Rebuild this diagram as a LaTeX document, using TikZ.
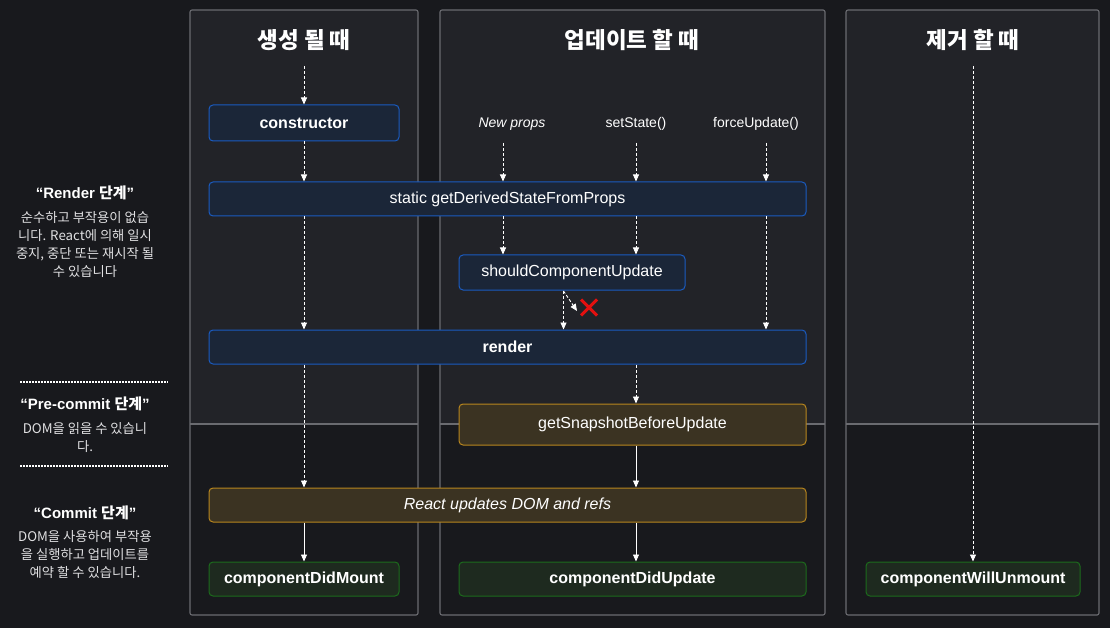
\documentclass[tikz,border=0pt]{standalone}
\usepackage{fontspec}
\setmainfont{Liberation Sans}
\newfontfamily\krfont{Noto Sans CJK KR}
\newcommand\kr[1]{{\krfont #1}}
\usetikzlibrary{arrows.meta,shapes.misc}

\definecolor{bgcol}{HTML}{18191D}
\definecolor{panelfill}{HTML}{222328}
\definecolor{panelline}{HTML}{6A6B70}
\definecolor{bluefill}{HTML}{1B2638}
\definecolor{blueline}{HTML}{1A5BC0}
\definecolor{goldfill}{HTML}{3B3322}
\definecolor{goldline}{HTML}{B8861E}
\definecolor{greenfill}{HTML}{1E2A1F}
\definecolor{greenline}{HTML}{1C6B1C}
\definecolor{descgray}{HTML}{E0E0E2}
\definecolor{crossred}{HTML}{E3100F}

\begin{document}
\begin{tikzpicture}[x=1pt,y=-1pt,
    box/.style={rectangle, rounded corners=4pt, line width=1pt, minimum height=35pt,
      inner sep=0pt, text=white, font=\fontsize{16}{19}\selectfont},
    bluebox/.style={box, draw=blueline, fill=bluefill},
    goldbox/.style={box, draw=goldline, fill=goldfill},
    greenbox/.style={box, draw=greenline, fill=greenfill, font=\fontsize{16}{19}\selectfont\bfseries},
    coltitle/.style={text=white, font=\krfont\bfseries\fontsize{22.5}{26}\selectfont},
    trigger/.style={text=white, font=\fontsize{14}{17}\selectfont},
    phase/.style={text=white, font=\bfseries\fontsize{15}{18}\selectfont},
    phasetext/.style={text=descgray, align=center, font=\krfont\fontsize{13.3}{18}\selectfont},
    dasharrow/.style={white, line width=0.9pt, dash pattern=on 3pt off 2pt, -{Triangle[width=6pt,length=7pt]}},
    solidarrow/.style={white, line width=0.9pt, -{Triangle[width=6pt,length=7pt]}},
    sep/.style={white, line width=1.7pt, dash pattern=on 1.7pt off 1.3pt}]
  % 背景
  \fill[bgcol] (0,0) rectangle (1110,628);
  % 三つの列
  \foreach \l/\r in {190/418, 440/825, 846/1099} {
    \fill[panelfill, rounded corners=2pt] (\l,10) rectangle (\r,424);
    \draw[panelline, line width=1.1pt, rounded corners=2pt] (\l,10) rectangle (\r,615);
    \draw[panelline, line width=1.1pt] (\l,424) -- (\r,424);
  }
  % 列の見出し
  \node[coltitle] (mounting) at (304,40) {생성 될 때};
  \node[coltitle] (updating) at (632,40) {업데이트 할 때};
  \node[coltitle] (unmounting) at (973,40) {제거 할 때};
  % 左側の説明
  \node[phase] (renderphase) at (85,193) {“Render \kr{단계}”};
  \node[phasetext] (renderdesc) at (85,245) {순수하고 부작용이 없습\\니다. React에 의해 일시\\중지, 중단 또는 재시작 될\\수 있습니다};
  \draw[sep] (20,382) -- (168,382);
  \node[phase] (precommitphase) at (85,404) {“Pre-commit \kr{단계}”};
  \node[phasetext] (precommitdesc) at (85,438) {DOM을 읽을 수 있습니\\다.};
  \draw[sep] (20,466) -- (168,466);
  \node[phase] (commitphase) at (85,513) {“Commit \kr{단계}”};
  \node[phasetext] (commitdesc) at (85,555) {DOM을 사용하여 부작용\\을 실행하고 업데이트를\\예약 할 수 있습니다.};
  % メソッドの箱
  \node[bluebox, minimum width=190pt, minimum height=36pt, font=\fontsize{16}{19}\selectfont\bfseries] (ctor) at (304,123) {constructor};
  \node[bluebox, minimum width=597pt, minimum height=34pt] (gdsfp) at (507.5,199) {static getDerivedStateFromProps};
  \node[bluebox, minimum width=226pt] (scu) at (572,272.5) {shouldComponentUpdate};
  \node[bluebox, minimum width=597pt, minimum height=34pt, font=\fontsize{16}{19}\selectfont\bfseries] (render) at (507.5,347) {render};
  \node[goldbox, minimum width=347pt, minimum height=41pt] (gsbu) at (632.5,424.5) {getSnapshotBeforeUpdate};
  \node[goldbox, minimum width=597pt, minimum height=34pt, font=\fontsize{16}{19}\selectfont\itshape] (rud) at (507.5,505) {React updates DOM and refs};
  \node[greenbox, minimum width=190pt, minimum height=34pt] (cdm) at (304,579) {componentDidMount};
  \node[greenbox, minimum width=347pt, minimum height=34pt] (cdu) at (632.5,579) {componentDidUpdate};
  \node[greenbox, minimum width=214pt, minimum height=34pt] (cwu) at (973,579) {componentWillUnmount};
  % 更新のきっかけ
  \node[trigger, font=\fontsize{14}{17}\selectfont\itshape] (newprops) at (512,124) {New props};
  \node[trigger] (setstate) at (636,124) {setState()};
  \node[trigger] (forceupdate) at (756,124) {forceUpdate()};
  \coordinate (np) at (503,143);
  \coordinate (ss) at (636,143);
  \coordinate (fu) at (766,143);
  % 生成の矢印
  \coordinate (mountstart) at (304,66);
  \draw[dasharrow] (mountstart) -- (ctor);
  \draw[dasharrow] (ctor) -- (gdsfp.north -| ctor);
  \draw[dasharrow] (gdsfp.south -| ctor) -- (render.north -| ctor);
  \draw[dasharrow] (render.south -| ctor) -- (rud.north -| ctor);
  \draw[solidarrow] (rud.south -| ctor) -- (cdm);
  % 更新の矢印
  \draw[dasharrow] (np) -- (gdsfp.north -| np);
  \draw[dasharrow] (ss) -- (gdsfp.north -| ss);
  \draw[dasharrow] (fu) -- (gdsfp.north -| fu);
  \draw[dasharrow] (gdsfp.south -| np) -- (scu.north -| np);
  \draw[dasharrow] (gdsfp.south -| ss) -- (scu.north -| ss);
  \draw[dasharrow] (gdsfp.south -| fu) -- (render.north -| fu);
  \coordinate (skip) at (563.5,291);
  \draw[dasharrow] (skip) -- (render.north -| skip);
  \node[cross out, draw=crossred, line width=3pt, minimum size=13pt, inner sep=0pt] (stop) at (589,307.5) {};
  \coordinate (stoptip) at (577,311);
  \draw[dasharrow] (skip) -- (stoptip);
  \draw[dasharrow] (render.south -| ss) -- (gsbu.north -| ss);
  \draw[solidarrow] (gsbu.south -| ss) -- (rud.north -| ss);
  \draw[solidarrow] (rud.south -| ss) -- (cdu.north -| ss);
  % 削除の矢印
  \coordinate (unmountstart) at (973,66);
  \draw[dasharrow] (unmountstart) -- (cwu);
\end{tikzpicture}
\end{document}
